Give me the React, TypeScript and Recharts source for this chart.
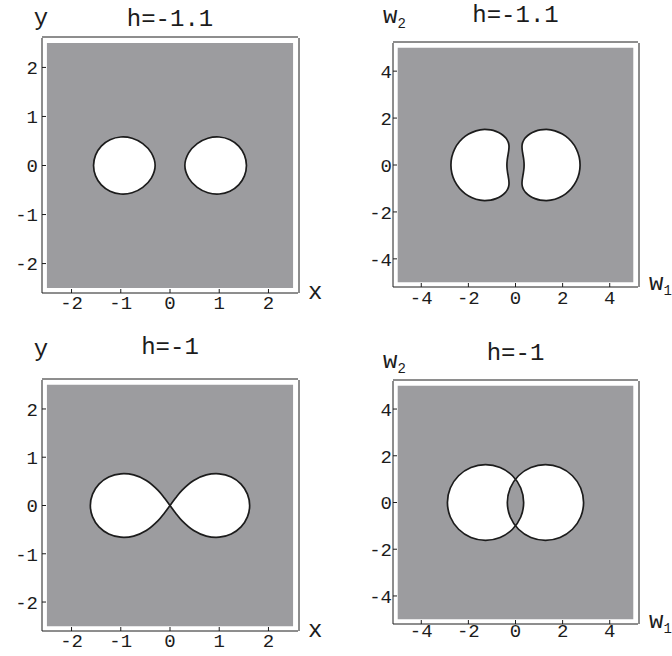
import { Area, ComposedChart, Label, Line, XAxis, YAxis } from "recharts";

type Pt = { x: number; y: number };

const XY_TICKS = [-2, -1, 0, 1, 2];
const W_TICKS = [-4, -2, 0, 2, 4];

// h = -1.1, (x, y): right oval, upper half from x max to x min
const ovalHalf: Pt[] = [
  { x: 1.553, y: 0 }, { x: 1.512, y: 0.212 }, { x: 1.396, y: 0.396 }, { x: 1.217, y: 0.525 },
  { x: 1.0, y: 0.581 }, { x: 0.77, y: 0.556 }, { x: 0.553, y: 0.447 }, { x: 0.379, y: 0.257 },
  { x: 0.302, y: 0 },
];

// h = -1, (x, y): right lobe of the figure eight, upper half from the crossing to x max
const lobeHalf: Pt[] = [
  { x: 0, y: 0 }, { x: 0.113, y: 0.156 }, { x: 0.242, y: 0.314 }, { x: 0.481, y: 0.519 },
  { x: 0.738, y: 0.633 }, { x: 1.0, y: 0.656 }, { x: 1.244, y: 0.589 }, { x: 1.443, y: 0.443 },
  { x: 1.573, y: 0.237 }, { x: 1.618, y: 0 },
];

// h = -1.1, (w1, w2): right kidney, upper half, outer arc then inner arc
const kidneyHalf: Pt[] = [
  { x: 2.741, y: 0 }, { x: 2.579, y: 0.691 }, { x: 2.129, y: 1.229 }, { x: 1.498, y: 1.498 },
  { x: 1.047, y: 1.495 }, { x: 0.829, y: 1.435 }, { x: 0.621, y: 1.332 }, { x: 0.425, y: 1.166 },
  { x: 0.363, y: 1.083 }, { x: 0.302, y: 0.954 }, { x: 0.278, y: 0.83 }, { x: 0.276, y: 0.757 },
  { x: 0.288, y: 0.617 }, { x: 0.302, y: 0.523 }, { x: 0.314, y: 0.449 }, { x: 0.334, y: 0.334 },
  { x: 0.352, y: 0.203 }, { x: 0.362, y: 0.097 }, { x: 0.365, y: 0 },
];

// h = -1, (w1, w2): right circle, upper half from w1 max to w1 min
const circleHalf: Pt[] = [
  { x: 2.89, y: 0 }, { x: 2.767, y: 0.619 }, { x: 2.416, y: 1.144 }, { x: 1.891, y: 1.495 },
  { x: 1.272, y: 1.618 }, { x: 0.653, y: 1.495 }, { x: 0.128, y: 1.144 }, { x: -0.223, y: 0.619 },
  { x: -0.346, y: 0 },
];

// h = -1, (w1, w2): left edge of the lens where the two circles overlap, top to bottom
const lensArc: Pt[] = [
  { x: 0, y: 1.0 }, { x: -0.129, y: 0.809 }, { x: -0.291, y: 0.419 }, { x: -0.346, y: 0 },
  { x: -0.291, y: -0.419 }, { x: -0.129, y: -0.809 }, { x: 0, y: -1.0 },
];

const MONO = "'Liberation Mono', 'DejaVu Sans Mono', monospace";
const INK = "#1c1c1c";
const GRAY = "#9c9c9f";

const flipY = (p: Pt) => ({ x: p.x, y: -p.y });
const flipX = (p: Pt) => ({ x: -p.x, y: p.y });
const flipXY = (p: Pt) => ({ x: -p.x, y: -p.y });
// upper half + mirrored lower half, end points not repeated
const mirrorLoop = (half: Pt[]) => [...half, ...half.slice(1, -1).reverse().map(flipY)];

const ovalR = mirrorLoop(ovalHalf);
const figureEight = [
  ...lobeHalf,
  ...lobeHalf.slice(1, -1).reverse().map(flipY),
  { x: 0, y: 0 },
  ...lobeHalf.slice(1).map(flipX),
  ...lobeHalf.slice(1, -1).reverse().map(flipXY),
];
const kidneyR = mirrorLoop(kidneyHalf);
const circleR = mirrorLoop(circleHalf);
const lens = [...lensArc, ...lensArc.slice(1, -1).reverse().map(flipX)];

const minorTicks = (step: number, lim: number, major: number) => {
  const out: number[] = [];
  for (let i = -Math.floor(lim / step); i <= Math.floor(lim / step); i++) {
    const v = +(i * step).toFixed(3);
    if (Math.abs(v / major - Math.round(v / major)) > 1e-6) out.push(v);
  }
  return out;
};

// closed centripetal Catmull-Rom curve for d3-shape (used by Line and Area)
function closedSpline(context: any) {
  let pts: number[][] = [];
  return {
    areaStart() {},
    areaEnd() {},
    lineStart() {
      pts = [];
    },
    point(x: number, y: number) {
      pts.push([+x, +y]);
    },
    lineEnd() {
      const n = pts.length;
      if (!n) return;
      context.moveTo(pts[0][0], pts[0][1]);
      if (n < 3) {
        for (let i = 1; i < n; i++) context.lineTo(pts[i][0], pts[i][1]);
        context.closePath();
        return;
      }
      for (let i = 0; i < n; i++) {
        const p0 = pts[(i - 1 + n) % n];
        const p1 = pts[i];
        const p2 = pts[(i + 1) % n];
        const p3 = pts[(i + 2) % n];
        const d01 = Math.hypot(p1[0] - p0[0], p1[1] - p0[1]);
        const d12 = Math.hypot(p2[0] - p1[0], p2[1] - p1[1]);
        const d23 = Math.hypot(p3[0] - p2[0], p3[1] - p2[1]);
        const a01 = Math.sqrt(d01);
        const a12 = Math.sqrt(d12);
        const a23 = Math.sqrt(d23);
        let c1x = p1[0], c1y = p1[1], c2x = p2[0], c2y = p2[1];
        if (a01 > 1e-6) {
          const a = 2 * d01 + 3 * a01 * a12 + d12;
          const m = 3 * a01 * (a01 + a12);
          c1x = (p1[0] * a - p0[0] * d12 + p2[0] * d01) / m;
          c1y = (p1[1] * a - p0[1] * d12 + p2[1] * d01) / m;
        }
        if (a23 > 1e-6) {
          const b = 2 * d23 + 3 * a23 * a12 + d12;
          const m = 3 * a23 * (a23 + a12);
          c2x = (p2[0] * b + p1[0] * d23 - p3[0] * d12) / m;
          c2y = (p2[1] * b + p1[1] * d23 - p3[1] * d12) / m;
        }
        context.bezierCurveTo(c1x, c1y, c2x, c2y, p2[0], p2[1]);
      }
      context.closePath();
    },
  };
}

function Name(props: { x: number; y: number; anchor: string; size: number; text: string; sub?: string }) {
  const { x, y, anchor, size, text, sub } = props;
  return (
    <text x={x} y={y} textAnchor={anchor as any} fontFamily={MONO} fontSize={size} fill={INK}>
      {text}
      {sub ? (
        <tspan fontSize={14} dy={5}>
          {sub}
        </tspan>
      ) : null}
    </text>
  );
}

type Box = { top: number; right: number; bottom: number; left: number };

type PanelProps = {
  left: number;
  top: number;
  frameBox: Box; // frame edges inside the 336x328 cell
  frame: number;
  shade: number;
  ticks: number[];
  minor: number[];
  title: string;
  titleGap: number;
  xName: string;
  xSub?: string;
  xNameAt: [number, number];
  yName: string;
  ySub?: string;
  yNameAt: [number, number, string];
  tickMargin: { x: number; y: number };
  fills: Pt[][];
  holes?: Pt[][];
};

// every axis is 1px thick (a 0px axis is not drawn), two axes per side
const AX = 1;

function Panel(p: PanelProps) {
  const domain = [-p.frame, p.frame];
  const square = [
    { x: -p.shade, y: p.shade },
    { x: p.shade, y: p.shade },
  ];
  const margin = {
    top: p.frameBox.top - 2 * AX,
    right: p.frameBox.right - 2 * AX,
    bottom: p.frameBox.bottom - 2 * AX,
    left: p.frameBox.left - 2 * AX,
  };
  const tickStyle = { fontSize: 19, fontFamily: MONO, fill: INK };
  const line = { stroke: INK, strokeWidth: 1 };
  return (
    <div style={{ position: "absolute", left: p.left, top: p.top }}>
      <ComposedChart width={336} height={328} margin={margin}>
        <XAxis
          type="number"
          dataKey="x"
          domain={domain}
          allowDataOverflow
          ticks={p.ticks}
          interval={0}
          height={AX}
          tickSize={-4}
          tickMargin={p.tickMargin.x}
          tick={tickStyle}
          axisLine={line}
          tickLine={line}
        >
          <Label
            content={(lp: any) => (
              <Name
                x={lp.viewBox.x + lp.viewBox.width + p.xNameAt[0]}
                y={lp.viewBox.y + p.xNameAt[1]}
                anchor="start"
                size={24}
                text={p.xName}
                sub={p.xSub}
              />
            )}
          />
        </XAxis>
        <XAxis
          xAxisId="top"
          orientation="top"
          type="number"
          domain={domain}
          allowDataOverflow
          ticks={p.ticks}
          interval={0}
          height={AX}
          tickSize={-4}
          tick={false}
          axisLine={line}
          tickLine={line}
        >
          <Label
            content={(lp: any) => (
              <Name
                x={lp.viewBox.x + lp.viewBox.width / 2}
                y={lp.viewBox.y + lp.viewBox.height - p.titleGap}
                anchor="middle"
                size={24}
                text={p.title}
              />
            )}
          />
        </XAxis>
        <XAxis xAxisId="minB" type="number" domain={domain} allowDataOverflow ticks={p.minor} interval={0}
          height={AX} tickSize={-2} tick={false} axisLine={false} tickLine={line} />
        <XAxis xAxisId="minT" orientation="top" type="number" domain={domain} allowDataOverflow ticks={p.minor}
          interval={0} height={AX} tickSize={-2} tick={false} axisLine={false} tickLine={line} />
        <YAxis
          type="number"
          domain={domain}
          allowDataOverflow
          ticks={p.ticks}
          interval={0}
          width={AX}
          tickSize={-4}
          tickMargin={p.tickMargin.y}
          tick={tickStyle}
          axisLine={line}
          tickLine={line}
        >
          <Label
            content={(lp: any) => (
              <Name
                x={lp.viewBox.x + lp.viewBox.width + p.yNameAt[0]}
                y={lp.viewBox.y - p.yNameAt[1]}
                anchor={p.yNameAt[2]}
                size={24}
                text={p.yName}
                sub={p.ySub}
              />
            )}
          />
        </YAxis>
        <YAxis
          yAxisId="right"
          orientation="right"
          type="number"
          domain={domain}
          allowDataOverflow
          ticks={p.ticks}
          interval={0}
          width={AX}
          tickSize={-4}
          tick={false}
          axisLine={line}
          tickLine={line}
        />
        <YAxis yAxisId="minL" type="number" domain={domain} allowDataOverflow ticks={p.minor} interval={0}
          width={AX} tickSize={-2} tick={false} axisLine={false} tickLine={line} />
        <YAxis yAxisId="minR" orientation="right" type="number" domain={domain} allowDataOverflow ticks={p.minor}
          interval={0} width={AX} tickSize={-2} tick={false} axisLine={false} tickLine={line} />

        {/* shaded square: the region outside the white curves */}
        <Area
          data={square}
          dataKey="y"
          baseValue={-p.shade}
          type="linear"
          fill={GRAY}
          fillOpacity={1}
          stroke="none"
          dot={false}
          activeDot={false}
          isAnimationActive={false}
        />
        {p.fills.map((loop, i) => (
          <Area
            key={`f${i}`}
            data={loop}
            dataKey="y"
            baseValue={0}
            type={closedSpline as any}
            fill="#ffffff"
            fillOpacity={1}
            stroke="none"
            dot={false}
            activeDot={false}
            isAnimationActive={false}
          />
        ))}
        {(p.holes || []).map((loop, i) => (
          <Area
            key={`h${i}`}
            data={loop}
            dataKey="y"
            baseValue={0}
            type="linearClosed"
            fill={GRAY}
            fillOpacity={1}
            stroke="none"
            dot={false}
            activeDot={false}
            isAnimationActive={false}
          />
        ))}
        {p.fills.map((loop, i) => (
          <Line
            key={`l${i}`}
            data={loop}
            dataKey="y"
            type={closedSpline as any}
            stroke={INK}
            strokeWidth={1.7}
            dot={false}
            activeDot={false}
            isAnimationActive={false}
          />
        ))}
      </ComposedChart>
    </div>
  );
}

const XY_MINOR = minorTicks(0.2, 2.6, 1);
const W_MINOR = minorTicks(0.5, 5.2, 2);

export default function App() {
  return (
    <div style={{ position: "absolute", left: 0, top: 0, width: 672, height: 656, background: "#fff" }}>
      <Panel
        left={0}
        top={0}
        frameBox={{ top: 38, right: 38, bottom: 35, left: 42 }}
        frame={2.6}
        shade={2.5}
        ticks={XY_TICKS}
        minor={XY_MINOR}
        title="h=-1.1"
        titleGap={11}
        xName="x"
        xNameAt={[10, 6]}
        yName="y"
        yNameAt={[-1, 13, "middle"]}
        tickMargin={{ x: 7, y: 8 }}
        fills={[ovalR, ovalR.map(flipX)]}
      />
      <Panel
        left={336}
        top={0}
        frameBox={{ top: 43, right: 34, bottom: 41, left: 57 }}
        frame={5.2}
        shade={5}
        ticks={W_TICKS}
        minor={W_MINOR}
        title="h=-1.1"
        titleGap={20}
        xName="w"
        xSub="1"
        xNameAt={[11, 3]}
        yName="w"
        ySub="2"
        yNameAt={[-10, 20, "start"]}
        tickMargin={{ x: 8, y: 5 }}
        fills={[kidneyR, kidneyR.map(flipX)]}
      />
      <Panel
        left={0}
        top={328}
        frameBox={{ top: 52, right: 38, bottom: 25, left: 42 }}
        frame={2.6}
        shade={2.5}
        ticks={XY_TICKS}
        minor={XY_MINOR}
        title="h=-1"
        titleGap={25}
        xName="x"
        xNameAt={[10, 6]}
        yName="y"
        yNameAt={[-1, 24, "middle"]}
        tickMargin={{ x: 7, y: 8 }}
        fills={[figureEight]}
      />
      <Panel
        left={336}
        top={328}
        frameBox={{ top: 53, right: 34, bottom: 32, left: 57 }}
        frame={5.2}
        shade={5}
        ticks={W_TICKS}
        minor={W_MINOR}
        title="h=-1"
        titleGap={20}
        xName="w"
        xSub="1"
        xNameAt={[11, 4]}
        yName="w"
        ySub="2"
        yNameAt={[-10, 13, "start"]}
        tickMargin={{ x: 4, y: 5 }}
        fills={[circleR, circleR.map(flipX)]}
        holes={[lens]}
      />
    </div>
  );
}
